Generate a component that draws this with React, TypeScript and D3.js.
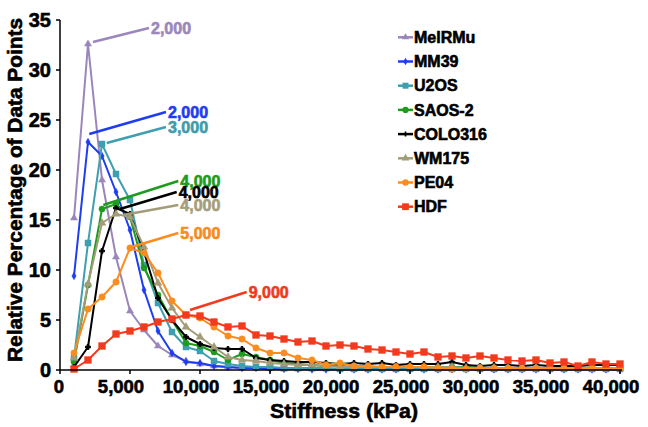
import React from "react";
import * as d3 from "d3";

const stiffness = [
  1000, 2000, 3000, 4000, 5000, 6000, 7000, 8000, 9000, 10000,
  11000, 12000, 13000, 14000, 15000, 16000, 17000, 18000, 19000, 20000,
  21000, 22000, 23000, 24000, 25000, 26000, 27000, 28000, 29000, 30000,
  31000, 32000, 33000, 34000, 35000, 36000, 37000, 38000, 39000, 40000,
];

const seriesNames = ["MelRMu", "MM39", "U2OS", "SAOS-2", "COLO316", "WM175", "PE04", "HDF"];

const melrmu = [15.2, 32.6, 19.0, 11.3, 5.9, 4.0, 2.4, 1.5, 0.9, 0.6, 0.4, 0.3, 0.2, 0.2, 0.15, 0.1, 0.1, 0.1, 0.1, 0.1,
  0.1, 0.1, 0.1, 0.1, 0.1, 0.1, 0.1, 0.1, 0.1, 0.1, 0.1, 0.1, 0.1, 0.1, 0.1, 0.1, 0.1, 0.1, 0.1, 0.1];
const mm39 = [9.4, 22.8, 21.4, 17.8, 14.0, 8.0, 3.9, 1.7, 0.8, 0.7, 0.4, 0.3, 0.2, 0.2, 0.1, 0.1, 0.1, 0.05, 0.05, 0.05,
  0.05, 0.05, 0.05, 0.05, 0.05, 0.05, 0.05, 0.05, 0.05, 0.05, 0.05, 0.05, 0.05, 0.05, 0.05, 0.05, 0.05, 0.05, 0.05, 0.05];
const u2os = [1.2, 12.7, 22.6, 19.6, 17.0, 10.5, 6.7, 3.8, 2.3, 1.9, 0.9, 0.6, 0.4, 0.3, 0.3, 0.2, 0.2, 0.2, 0.2, 0.1,
  0.1, 0.1, 0.1, 0.1, 0.1, 0.1, 0.1, 0.1, 0.1, 0.1, 0.1, 0.1, 0.1, 0.1, 0.1, 0.1, 0.1, 0.1, 0.1, 0.1];
const saos2 = [0.8, 8.5, 16.1, 16.6, 15.3, 10.2, 7.5, 5.0, 2.7, 2.4, 1.8, 1.0, 1.6, 1.3, 1.0, 0.7, 0.6, 0.5, 0.4, 0.4,
  0.3, 0.3, 0.3, 0.3, 0.3, 0.3, 0.3, 0.3, 0.3, 0.2, 0.2, 0.2, 0.2, 0.2, 0.2, 0.2, 0.2, 0.2, 0.2, 0.2];
const colo316 = [0.3, 2.3, 11.9, 16.2, 15.6, 11.8, 7.2, 5.0, 3.3, 2.6, 2.2, 2.1, 2.1, 1.2, 1.0, 0.9, 0.8, 0.8, 0.7, 0.6,
  0.7, 0.6, 0.7, 0.5, 0.6, 0.6, 0.6, 0.8, 0.5, 0.4, 0.5, 0.5, 0.4, 0.5, 0.4, 0.4, 0.4, 0.5, 0.5, 0.5];
const wm175 = [1.2, 8.6, 14.7, 15.6, 15.3, 12.3, 8.7, 6.2, 4.3, 3.3, 2.3, 1.3, 1.0, 0.9, 0.7, 0.6, 0.5, 0.5, 0.4, 0.3,
  0.3, 0.3, 0.3, 0.3, 0.3, 0.3, 0.3, 0.3, 0.2, 0.2, 0.2, 0.2, 0.2, 0.2, 0.2, 0.2, 0.2, 0.2, 0.2, 0.2];
const pe04 = [1.7, 6.1, 7.3, 8.8, 12.2, 11.7, 9.7, 6.9, 5.5, 5.2, 4.3, 3.4, 3.1, 2.2, 1.7, 1.7, 1.2, 1.0, 0.5, 0.7,
  0.4, 0.4, 0.3, 0.3, 0.3, 0.3, 0.2, 0.1, 0.1, 0.2, 0.2, 0.2, 0.2, 0.2, 0.2, 0.2, 0.2, 0.2, 0.2, 0.2];
const hdf = [0.1, 1.0, 2.4, 3.6, 3.9, 4.3, 4.8, 5.1, 5.5, 5.4, 4.8, 4.3, 4.4, 3.5, 3.4, 3.1, 2.8, 2.9, 2.4, 2.5,
  2.4, 2.1, 2.0, 1.8, 1.6, 1.8, 1.3, 1.4, 1.2, 1.4, 1.2, 1.0, 0.9, 1.0, 0.7, 0.8, 0.4, 0.8, 0.6, 0.6];

const seriesValues = [melrmu, mm39, u2os, saos2, colo316, wm175, pe04, hdf];

const xTicks = [0, 5000, 10000, 15000, 20000, 25000, 30000, 35000, 40000];
const yTicks = [0, 5, 10, 15, 20, 25, 30, 35];

// peak annotations (data units)
const annText = ["2,000", "2,000", "3,000", "4,000", "4,000", "4,000", "5,000", "9,000"];
const annStartX = [2357, 2093, 3336, 3093, 4286, 4521, 5121, 9286];
const annStartY = [32.8, 23.6, 22.7, 16.5, 16.1, 15.5, 12.3, 6.0];
const annEndX = [6357, 7571, 7571, 8450, 8336, 8450, 8450, 13336];
const annEndY = [34.2, 25.8, 24.3, 18.9, 17.8, 16.5, 13.7, 7.8];

const colors = ["#9a86bb", "#1e3cf0", "#3e9fb0", "#1c9b1c", "#000000", "#a39c78", "#fb8c1f", "#f23a1e"];
const labelColors = ["#9a88bc", "#1f3df0", "#3f9cab", "#1c9b1c", "#000000", "#a59e7c", "#f98a1c", "#ef3a1e"];
const symbols = [d3.symbolTriangle, d3.symbolDiamond, d3.symbolSquare, d3.symbolCircle, d3.symbolCross, d3.symbolTriangle, d3.symbolCircle, d3.symbolSquare];
const symbolSizes = [22, 16, 36, 30, 14, 26, 32, 46];

const FONT = "'Liberation Sans', Arial, Helvetica, sans-serif";

export default function App() {
  const W = 648, H = 427;
  const x = d3.scaleLinear().domain([0, 40000]).range([60, 620]);
  const y = d3.scaleLinear().domain([0, 35]).range([370, 20]);
  const line = d3.line<number>().x((_, i) => x(stiffness[i])).y((d) => y(d));
  const heavy = (c: string) => ({ stroke: c, strokeWidth: 0.6, paintOrder: "stroke" as const });

  return (
    <svg width={W} height={H} style={{ position: "absolute", left: 0, top: 0, background: "#fff" }} fontFamily={FONT}>
      <rect width={W} height={H} fill="#fff" />
      {/* series */}
      {seriesValues.map((vals, si) => (
        <g key={si}>
          <path d={line(vals) || ""} fill="none" stroke={colors[si]} strokeWidth={2} strokeLinejoin="round" />
          {vals.map((v, i) => (
            <path
              key={i}
              d={d3.symbol().type(symbols[si]).size(symbolSizes[si])() || ""}
              transform={`translate(${x(stiffness[i])},${y(v)})`}
              fill={colors[si]}
              stroke={colors[si]}
              strokeWidth={si === 4 ? 1 : 0.5}
            />
          ))}
        </g>
      ))}
      {/* annotations */}
      {annText.map((t, i) => (
        <g key={"a" + i}>
          <line x1={x(annStartX[i])} y1={y(annStartY[i])} x2={x(annEndX[i])} y2={y(annEndY[i])} stroke={colors[i]} strokeWidth={2.5} />
          <text x={x(annEndX[i]) + 2} y={y(annEndY[i])} dy="0.36em" fontSize={16} fontWeight="bold" fill={labelColors[i]} {...heavy(labelColors[i])}>
            {t}
          </text>
        </g>
      ))}
      {/* axes */}
      <line x1={60} y1={y(35)} x2={60} y2={y(0)} stroke="#000" strokeWidth={1.5} />
      <line x1={60} y1={y(0)} x2={x(40000) + 2} y2={y(0)} stroke="#000" strokeWidth={1.5} />
      {yTicks.map((t) => (
        <g key={"y" + t}>
          <line x1={56} x2={60} y1={y(t)} y2={y(t)} stroke="#000" strokeWidth={1.5} />
          <text x={51} y={y(t)} dy="0.36em" textAnchor="end" fontSize={20} fontWeight="bold" {...heavy("#000")}>
            {t}
          </text>
        </g>
      ))}
      {xTicks.map((t) => (
        <g key={"x" + t}>
          <line x1={x(t)} x2={x(t)} y1={370} y2={374} stroke="#000" strokeWidth={1.5} />
          <text x={x(t) + (t === 0 ? -1 : -9)} y={393} textAnchor="middle" fontSize={18.5} fontWeight="bold" {...heavy("#000")}>
            {d3.format(",")(t)}
          </text>
        </g>
      ))}
      <text x={344} y={418} textAnchor="middle" fontSize={21} fontWeight="bold" textLength={148} lengthAdjust="spacingAndGlyphs" {...heavy("#000")}>
        Stiffness (kPa)
      </text>
      <text transform="translate(22,190) rotate(-90)" textAnchor="middle" fontSize={20} fontWeight="bold" textLength={344} lengthAdjust="spacingAndGlyphs" {...heavy("#000")}>
        Relative Percentage of Data Points
      </text>
      {/* legend */}
      {seriesNames.map((n, i) => {
        const ly = 37.3 + i * 24.2;
        return (
          <g key={"l" + i}>
            <line x1={398} x2={413} y1={ly} y2={ly} stroke={colors[i]} strokeWidth={2.5} />
            <path d={d3.symbol().type(symbols[i]).size(symbolSizes[i])() || ""} transform={`translate(405.5,${ly})`} fill={colors[i]} />
            <text x={414} y={ly} dy="0.36em" fontSize={16} fontWeight="bold" {...heavy("#000")}>
              {n}
            </text>
          </g>
        );
      })}
    </svg>
  );
}
